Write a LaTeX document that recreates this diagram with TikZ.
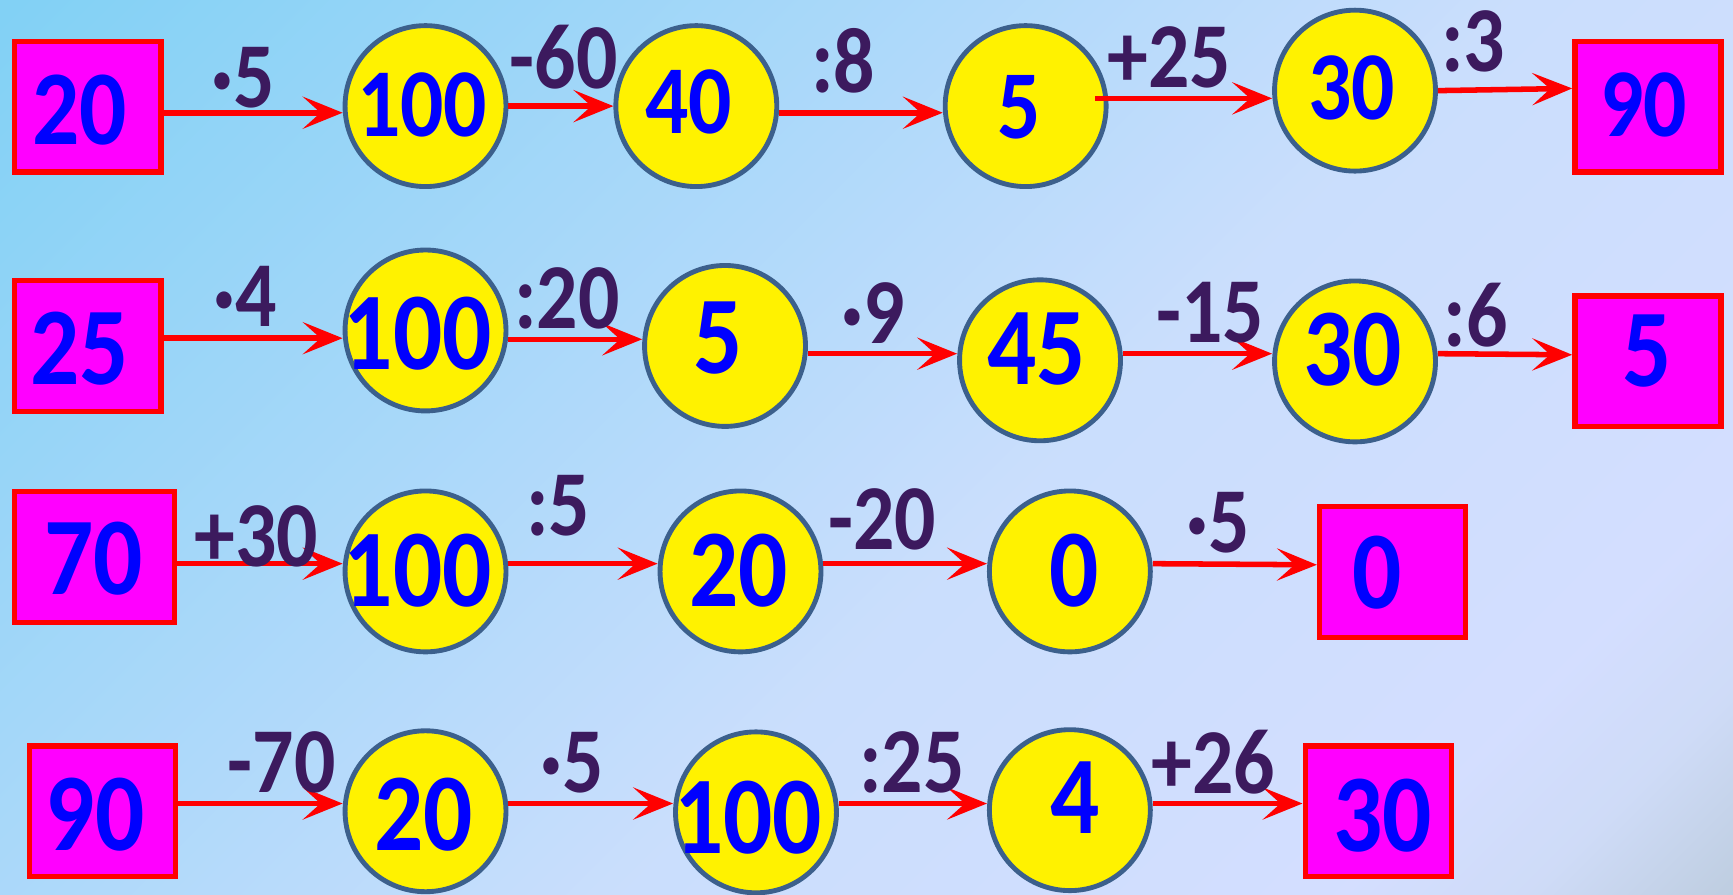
\documentclass[tikz,border=0pt]{standalone}
\usepackage{fontspec}
\setmainfont{Carlito}[FakeStretch=0.88]
\usetikzlibrary{arrows.meta}
\definecolor{numblue}{RGB}{0,0,255}
\definecolor{labpurple}{RGB}{60,26,94}
\definecolor{circline}{RGB}{60,96,140}
\definecolor{boxfill}{RGB}{255,0,255}
\definecolor{boxline}{RGB}{255,0,0}
\definecolor{arrred}{RGB}{255,0,0}
\pgfdeclarehorizontalshading{bgshade}{100bp}{rgb(0bp)=(0.51,0.82,0.96); rgb(15bp)=(0.51,0.82,0.96); rgb(40bp)=(0.68,0.85,0.98); rgb(55bp)=(0.79,0.87,0.99); rgb(75bp)=(0.83,0.87,1.0); rgb(80bp)=(0.81,0.86,0.97); rgb(86bp)=(0.74,0.80,0.87); rgb(100bp)=(0.74,0.80,0.87)}
\begin{document}
\begin{tikzpicture}[x=0.5pt,y=-0.5pt,
 circ/.style={circle, draw=circline, fill=yellow, line width=2.2pt, minimum size=72.8pt, inner sep=0pt},
 box/.style={rectangle, draw=boxline, fill=boxfill, line width=2.4pt, minimum width=66.1pt, minimum height=59.1pt, inner sep=0pt},
 widebox/.style={box, minimum width=72.1pt},
 numtxt/.style={text=numblue, inner sep=0pt, font=\fontsize{50}{50}\selectfont\bfseries},
 numsm/.style={numtxt, font=\fontsize{44}{44}\selectfont\bfseries},
 lab/.style={text=labpurple, inner sep=0pt, font=\fontsize{42}{42}\selectfont\bfseries},
 arr/.style={draw=arrred, line width=2.5pt, -{Stealth[length=18pt,width=14.5pt,inset=8pt]}}]
\shade[shading=bgshade, shading angle=-45] (0,0) rectangle (1568,809);
\useasboundingbox (0,0) rectangle (1568,809);

% ---------- Row 1 ----------
\node[box] (b20) at (79.5,96.5) {};
\node[circ] (c100a) at (385,96) {};
\node[circ] (c40) at (630,96) {};
\node[circ] (c5a) at (928,96) {};
\node[circ] (c30a) at (1226,82) {};
\node[box] (b90) at (1491,96.5) {};
\node[numtxt, font=\fontsize{48}{48}\selectfont\bfseries] (t20) at (72,100) {20};
\node[numsm] (t100a) at (382,95) {100};
\node[numsm] (t40) at (623,92) {40};
\node[numsm] (t5a) at (922,97) {5};
\node[numsm] (t30a) at (1223,80) {30};
\node[numsm] (t90) at (1487,95) {90};
\coordinate (s5a) at ([xshift=-6pt]c5a.east);
\draw[arr] (b20.east |- 0,102) -- (c100a.west |- 0,102);
\draw[arr] (c100a.east |- 0,96) -- (c40.west |- 0,96);
\draw[arr] (c40.east |- 0,102) -- (c5a.west |- 0,102);
\draw[arr] (s5a |- 0,89) -- (c30a.west |- 0,89);
\draw[arr] (c30a.east) -- (b90.west |- 0,80);
\node[lab] (l1a) at (220,70) {·5};
\node[lab] (l1b) at (510,52) {-60};
\node[lab] (l1c) at (763,55) {:8};
\node[lab] (l1d) at (1058,52) {+25};
\node[lab] (l1e) at (1333,37) {:3};

% ---------- Row 2 ----------
\node[box] (b25) at (79.5,313) {};
\node[circ] (c100b) at (385,299) {};
\node[circ] (c5b) at (656,313) {};
\node[circ] (c45) at (941,326) {};
\node[circ] (c30b) at (1226,327) {};
\node[box] (b5) at (1491,327) {};
\node[numtxt] (t25) at (72,315) {25};
\node[numtxt] (t100b) at (378,302) {100};
\node[numtxt] (t5b) at (650,306) {5};
\node[numtxt] (t45) at (938,316) {45};
\node[numtxt] (t30b) at (1224,316) {30};
\node[numtxt] (t5c) at (1490,318) {5};
\draw[arr] (b25.east |- 0,306) -- (c100b.west |- 0,306);
\draw[arr] (c100b.east |- 0,307) -- (c5b.west |- 0,307);
\draw[arr] (c5b.east |- 0,320) -- (c45.west |- 0,320);
\draw[arr] (c45.east |- 0,320) -- (c30b.west |- 0,320);
\draw[arr] (c30b.east |- 0,320) -- (b5.west |- 0,321);
\node[lab] (l2a) at (222,268) {·4};
\node[lab] (l2b) at (513,270) {:20};
\node[lab] (l2c) at (790,283) {·9};
\node[lab] (l2d) at (1095,283) {-15};
\node[lab] (l2e) at (1335,285) {:6};

% ---------- Row 3 ----------
\node[widebox] (b70) at (85.5,504) {};
\node[circ] (c100c) at (385,517) {};
\node[circ] (c20c) at (670,517) {};
\node[circ] (c0) at (968,517) {};
\node[box] (b0) at (1260,517.5) {};
\node[numtxt] (t70) at (85,505) {70};
\node[numtxt] (t100c) at (378,516) {100};
\node[numtxt] (t20c) at (668,516) {20};
\node[numtxt] (t0a) at (972,516) {0};
\node[numtxt] (t0b) at (1246,518) {0};
\draw[arr] (b70.east |- 0,510) -- (c100c.west |- 0,510);
\draw[arr] (c100c.east |- 0,510) -- (c20c.west |- 0,510);
\draw[arr] (c20c.east |- 0,510) -- (c0.west |- 0,510);
\draw[arr] (c0.east |- 0,510) -- (b0.west |- 0,511);
\node[lab] (l3a) at (232,485) {+30};
\node[lab] (l3b) at (505,458) {:5};
\node[lab] (l3c) at (798,470) {-20};
\node[lab] (l3d) at (1102,473) {·5};

% ---------- Row 4 ----------
\node[box] (b90d) at (93,734) {};
\node[circ] (c20d) at (385,734) {};
\node[circ] (c100d) at (684,735) {};
\node[circ] (c4) at (968,733) {};
\node[box] (b30) at (1247,734) {};
\node[numtxt] (t90d) at (86,737) {90};
\node[numtxt] (t20d) at (383,737) {20};
\node[numtxt] (t100d) at (677,740) {100};
\node[numtxt] (t4) at (973,722) {4};
\node[numtxt] (t30d) at (1251,738) {30};
\draw[arr] (b90d.east |- 0,727) -- (c20d.west |- 0,727);
\draw[arr] (c20d.east |- 0,727) -- (c100d.west |- 0,727);
\draw[arr] (c100d.east |- 0,727) -- (c4.west |- 0,727);
\draw[arr] (c4.east |- 0,727) -- (b30.west |- 0,727);
\node[lab] (l4a) at (255,690) {-70};
\node[lab] (l4b) at (518,690) {·5};
\node[lab] (l4c) at (825,690) {:25};
\node[lab] (l4d) at (1098,690) {+26};
\end{tikzpicture}
\end{document}
